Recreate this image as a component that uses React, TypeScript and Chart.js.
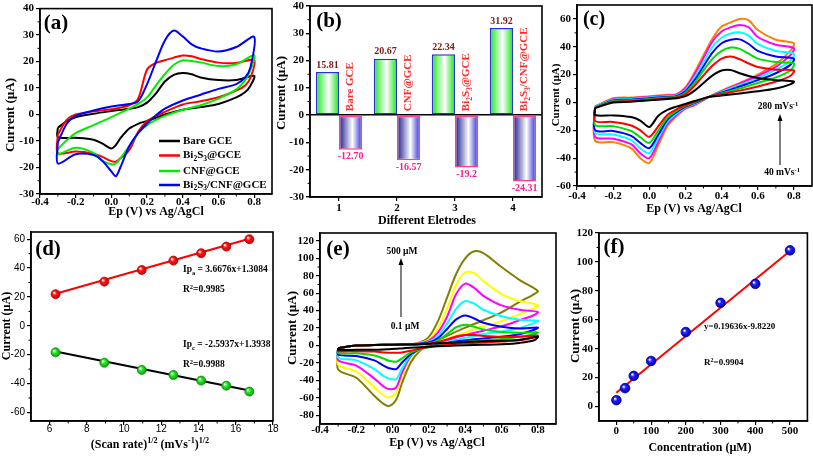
import React, { useEffect, useRef } from 'react';
import { Chart, registerables } from 'chart.js';

Chart.register(...registerables);

const SERIF = '"Liberation Serif", "Times New Roman", serif';
const SANS = '"Liberation Sans", Arial, sans-serif';

/* ---------------- (a) CVs of the four electrodes ---------------- */
const A_FWD_E = [-0.3, -0.25, -0.2, -0.1, 0, 0.1, 0.15, 0.2, 0.25, 0.3, 0.35, 0.4, 0.45, 0.5, 0.6, 0.7, 0.8];
const A_REV_E = [0.78, 0.75, 0.7, 0.6, 0.5, 0.4, 0.3, 0.25, 0.2, 0.15, 0.1, 0.05, 0.025, 0, -0.05, -0.1, -0.2, -0.3];
const A_BARE_FWD = [-5, -2.5, -1, 0.3, 1.3, 2.2, 2.8, 4.5, 8, 12.5, 15, 15.7, 15.2, 14, 13, 13, 14.6];
const A_BARE_REV = [11, 8.5, 6.5, 4, 2.8, 1.8, 0, -1.2, -2.4, -3.5, -5.3, -9, -11.5, -12.8, -11, -9.5, -8.8, -8.5];
const A_BI2S3_FWD = [-7.5, -2, 0, 1.2, 2, 3.5, 6, 17, 19.5, 20.5, 21.5, 22.3, 22, 21, 19.6, 19.5, 20.5];
const A_BI2S3_REV = [14, 11, 9, 6.5, 5, 3.8, 1, -0.5, -2.5, -6.5, -13.5, -16.5, -17.8, -17.6, -16, -14.8, -14, -14.6];
const A_CNF_FWD = [-13, -9.7, -7, -4, -1, 2.2, 4, 6.5, 11, 15.3, 18.8, 20.5, 20.2, 19.7, 18.3, 19, 22.4];
const A_CNF_REV = [17, 13, 9.5, 6, 3.5, 1.8, -0.5, -2, -4, -7, -12, -16.5, -18.5, -18.8, -17.5, -14.5, -12.5, -15];
const A_COMP_FWD = [-10.5, -3.5, -0.5, 1.5, 3, 4, 5, 11.5, 20, 28, 31.7, 29.5, 26.5, 25, 23.8, 25.5, 29.3];
const A_COMP_REV = [18, 14, 11.5, 9.7, 7.5, 5.3, 2.2, -0.3, -3.4, -7, -12, -20, -23.3, -21.5, -17.5, -15.3, -15, -18.5];
const A_NAMES = ['Bare GCE', 'Bi_2S_3@GCE', 'CNF@GCE', 'Bi_2S_3/CNF@GCE'];
const A_COLORS = ['#000000', '#ff0000', '#00ee00', '#0000ff'];

/* ---------------- (b) peak currents ---------------- */
const B_ELECTRODES = ['1', '2', '3', '4'];
const B_NAMES = ['Bare GCE', 'CNF@GCE', 'Bi_2S_3@GCE', 'Bi_2S_3/CNF@GCE'];
const B_IPA = [15.81, 20.67, 22.34, 31.92];
const B_IPC = [-12.7, -16.57, -19.2, -24.31];
const B_IPA_TXT = ['15.81', '20.67', '22.34', '31.92'];
const B_IPC_TXT = ['-12.70', '-16.57', '-19.2', '-24.31'];

/* ---------------- (c) scan rates 40 ... 280 mV/s ---------------- */
const C_FWD_E = [-0.3, -0.2, -0.1, 0, 0.1, 0.15, 0.2, 0.25, 0.3, 0.35, 0.4, 0.45, 0.5, 0.55, 0.6, 0.7, 0.8];
const C_REV_E = [0.78, 0.7, 0.6, 0.5, 0.4, 0.33, 0.25, 0.2, 0.15, 0.1, 0.05, 0, -0.05, -0.1, -0.2, -0.3];
const C_40_FWD = [-4, 0, 0.5, 1.5, 2.5, 3, 4.5, 8.5, 14, 19.5, 23, 23.3, 21, 19, 17.5, 16, 15];
const C_40_REV = [13, 10, 8, 6.5, 5, 4, 1, -1, -3, -5.3, -9.5, -17.6, -13, -10.5, -9.3, -9];
const C_80_FWD = [-4, 0.5, 1, 2, 3, 3.5, 6, 12, 19.5, 26.5, 31.5, 33, 31, 28, 25.5, 23.5, 23];
const C_80_REV = [19, 15, 11.5, 8.5, 6, 4, 0.5, -2, -5, -9, -17, -24.6, -20, -16.5, -14, -13.3];
const C_120_FWD = [-3.5, 1, 1.5, 2.5, 3.5, 4, 7, 14, 23, 31.5, 37, 39.4, 38.5, 35, 31.5, 29, 28];
const C_120_REV = [23, 18, 14, 10, 6.5, 4, 0, -2.5, -6, -11, -20, -29, -25, -20.5, -17, -16.2];
const C_160_FWD = [-3.5, 1.5, 2, 3, 4, 4.5, 8, 16, 26, 36, 42.5, 45, 45.3, 42, 37, 33, 31.5];
const C_160_REV = [27, 21, 16, 11.5, 7, 4, -0.5, -3, -7, -12.5, -23, -32.8, -29, -24, -20.5, -19.8];
const C_200_FWD = [-3, 2, 2.5, 3.5, 4.5, 5, 9, 18, 29, 40, 46.5, 49.5, 50.4, 48, 42, 37, 35];
const C_200_REV = [30, 23.5, 17.5, 12.5, 7.5, 4, -1, -3.5, -8, -14, -25.5, -36.4, -33, -27, -23, -21.7];
const C_240_FWD = [-3, 2.5, 3, 4, 5, 5.5, 10, 20, 32, 44, 51, 54, 55.7, 54, 47, 41.5, 39];
const C_240_REV = [34, 25.5, 19, 13.5, 8, 4, -1.5, -4, -9, -15.5, -28, -40, -36.5, -30, -26, -24.6];
const C_280_FWD = [-3, 3, 3.5, 4.5, 5.5, 6, 11, 21.5, 34, 46, 54.5, 57.5, 60, 59, 52, 45, 42.5];
const C_280_REV = [37, 27.5, 20, 14, 8.5, 4, -2, -4.5, -10, -17, -30.5, -43.5, -40, -33, -28.5, -27.5];
const C_COLORS = ['#000000', '#ff0000', '#00dd00', '#0000ff', '#00ffff', '#ff00ff', '#ff8000'];

/* ---------------- (d) peak current vs sqrt(scan rate) ---------------- */
const D_SQRT_RATE = [6.32, 8.94, 10.95, 12.65, 14.14, 15.49, 16.73];
const D_IPA = [21.9, 30.6, 38.7, 45.2, 50.3, 54.9, 60.0];
const D_IPC = [-18.4, -25.6, -30.6, -34.1, -38.0, -41.5, -45.6];
const D_FIT_X = [6.32, 16.73];
const D_FIT_IPA = [22.2, 60.3];
const D_FIT_IPC = [-17.8, -44.8];

/* ---------------- (e) concentrations 0.1 ... 500 uM ---------------- */
const E_FWD_E = [-0.3, -0.2, -0.1, 0, 0.1, 0.15, 0.2, 0.25, 0.3, 0.35, 0.4, 0.45, 0.5, 0.6, 0.7, 0.8];
const E_REV_E = [0.78, 0.7, 0.6, 0.5, 0.4, 0.3, 0.2, 0.15, 0.1, 0.05, 0.02, -0.02, -0.05, -0.1, -0.2, -0.3];
const E_BLACK_FWD = [-3, 0, 0.5, 1, 1.2, 1.5, 2, 2.5, 3, 3.5, 4, 4.5, 5, 5.5, 6.5, 10];
const E_BLACK_REV = [6, 3, 1.5, 0.8, 0.2, -0.5, -1.5, -2, -2.7, -3.3, -3.8, -4.2, -4.5, -4.8, -5, -5];
const E_RED_FWD = [-3, 0, 0.5, 1, 1.2, 1.5, 2, 4, 7, 10.5, 12, 12, 11, 10, 10, 11.5];
const E_RED_REV = [9, 6, 4.5, 3.5, 2.5, 1, -1.5, -3.5, -6, -8, -8.3, -8.2, -8, -7, -6.5, -6.5];
const E_GREEN_FWD = [-3, 0, 0.5, 1, 1.2, 1.5, 2.5, 6, 13, 21, 23.8, 21.5, 18.5, 15.5, 14.5, 15];
const E_GREEN_REV = [13, 10, 7.5, 6, 4, 2, -2, -4, -8, -15, -18.5, -17.5, -15, -11.5, -9, -8.5];
const E_BLUE_FWD = [-3, 0, 0.5, 1, 1.3, 2, 3.5, 8.5, 19, 30, 34.5, 31, 26, 21.5, 19.5, 20.5];
const E_BLUE_REV = [18, 13, 10, 8, 6, 3, -1.5, -4, -10, -20, -27, -26, -23, -17, -12, -10.5];
const E_CYAN_FWD = [-3, 0, 0.5, 1, 1.5, 2, 4.5, 11, 25, 42, 51, 48, 41, 33.5, 29.5, 28.5];
const E_CYAN_REV = [26, 20, 16, 13, 9, 4, -1, -4, -11, -27, -38.5, -38, -35, -27, -17, -14];
const E_MAGENTA_FWD = [-3, 0, 0.5, 1, 1.5, 2.5, 5.5, 15, 33, 59, 71, 66, 57, 46, 41, 38.5];
const E_MAGENTA_REV = [35, 29, 22, 17, 12, 6, -0.5, -4, -12, -32, -48, -50, -47, -38, -23, -17];
const E_YELLOW_FWD = [-3, 0, 0.5, 1, 1.5, 3, 7, 20, 42, 70, 84, 83, 74, 59, 51, 46.5];
const E_YELLOW_REV = [43, 36, 28, 22, 15, 7.5, 0, -4.5, -14, -36, -54, -59.5, -57, -48, -30, -22];
const E_OLIVE_FWD = [-3, 0, 0.5, 1, 1.5, 3.5, 10, 28, 55, 82, 100, 108, 106, 90, 75, 62.5];
const E_OLIVE_REV = [59, 50, 38, 29, 20.5, 11, 1, -6, -19.5, -44, -62, -69.5, -67, -58, -37, -27.5];
const E_COLORS = ['#000000', '#ff0000', '#00dd00', '#0000ff', '#00ffff', '#ff00ff', '#ffff00', '#808000'];

/* ---------------- (f) calibration ---------------- */
const F_CONC = [0.1, 25, 50, 100, 200, 300, 400, 500];
const F_CURRENT = [4.4, 12.7, 21.2, 31.5, 51.5, 71.7, 84.8, 108];
const F_FIT_X = [0, 500];
const F_FIT_Y = [9.5, 107.5];
const F_X_TICKS = [0, 100, 200, 300, 400, 500];

/* ---------------- helpers ---------------- */
const TICK_FONT = { family: SERIF, size: 11, weight: 'bold' as const };
const TICK_FONT_D = { family: SANS, size: 10, weight: 'normal' as const };

function geom(left: number, top: number, w: number, h: number, area: number[]) {
  const [l, t, r, b] = area;
  return { left, top, w, h, yW: l - left, padT: t - top, padR: left + w - r, xH: top + h - b };
}

type Seg = { t: string; m: number };
function parseRich(s: string): Seg[] {
  const out: Seg[] = [];
  let buf = '';
  const flush = () => { if (buf) { out.push({ t: buf, m: 0 }); buf = ''; } };
  for (let i = 0; i < s.length; i++) {
    const c = s[i];
    if ((c === '_' || c === '^') && i + 1 < s.length) {
      flush();
      let t = '';
      if (s[i + 1] === '{') { const j = s.indexOf('}', i + 2); t = s.slice(i + 2, j); i = j; }
      else { t = s[i + 1]; i++; }
      out.push({ t, m: c === '_' ? 1 : 2 });
    } else buf += c;
  }
  flush();
  return out;
}

function drawRich(ctx: CanvasRenderingContext2D, s: string, x: number, y: number, o: any) {
  const segs = parseRich(s);
  const fam = o.family || SERIF;
  const wt = o.weight || 'bold';
  const size = o.size;
  const small = size * 0.68;
  const f = (sz: number) => `${wt} ${sz}px ${fam}`;
  let total = 0;
  const widths = segs.map((sg) => { ctx.font = f(sg.m ? small : size); const w = ctx.measureText(sg.t).width; total += w; return w; });
  let cx = o.align === 'center' ? x - total / 2 : o.align === 'right' ? x - total : x;
  ctx.save();
  ctx.fillStyle = o.color || '#000';
  ctx.textBaseline = 'middle';
  ctx.textAlign = 'left';
  segs.forEach((sg, i) => {
    ctx.font = f(sg.m ? small : size);
    const dy = sg.m === 1 ? size * 0.3 : sg.m === 2 ? -size * 0.33 : 0;
    ctx.fillText(sg.t, cx, y + dy);
    cx += widths[i];
  });
  ctx.restore();
}

function arrowUp(ctx: CanvasRenderingContext2D, x: number, yb: number, yt: number) {
  ctx.save();
  ctx.strokeStyle = '#000';
  ctx.fillStyle = '#000';
  ctx.lineWidth = 1;
  ctx.beginPath(); ctx.moveTo(x, yb); ctx.lineTo(x, yt + 4); ctx.stroke();
  ctx.beginPath(); ctx.moveTo(x, yt); ctx.lineTo(x - 2.5, yt + 7); ctx.lineTo(x + 2.5, yt + 7); ctx.closePath(); ctx.fill();
  ctx.restore();
}

const framePlugin = {
  id: 'frame',
  afterDraw(chart: any) {
    const { left, top, right, bottom } = chart.chartArea;
    const ctx = chart.ctx;
    ctx.save();
    ctx.strokeStyle = '#000';
    ctx.lineWidth = 1.6;
    ctx.strokeRect(left, top, right - left, bottom - top);
    ctx.restore();
  },
};

const minorPlugin = {
  id: 'minorTicks',
  afterDraw(chart: any) {
    const ctx = chart.ctx;
    ['x', 'y'].forEach((id) => {
      const s = chart.scales[id];
      if (!s || s.type !== 'linear') return;
      const t = s.ticks.map((k: any) => k.value);
      ctx.save();
      ctx.strokeStyle = '#000';
      ctx.lineWidth = 1;
      for (let i = 0; i < t.length - 1; i++) {
        const p = s.getPixelForValue((t[i] + t[i + 1]) / 2);
        ctx.beginPath();
        if (id === 'x') { const y = chart.chartArea.bottom; ctx.moveTo(p, y); ctx.lineTo(p, y + 2.5); }
        else { const x = chart.chartArea.left; ctx.moveTo(x, p); ctx.lineTo(x - 2.5, p); }
        ctx.stroke();
      }
      ctx.restore();
    });
  },
};

function pagePlugin(g: any, items: any[], arrows: number[][] = []) {
  return {
    id: 'pageTexts',
    afterDraw(chart: any) {
      const ctx = chart.ctx;
      items.forEach((it) => {
        ctx.save();
        ctx.translate(it.x - g.left, it.y - g.top);
        if (it.rot) ctx.rotate(it.rot);
        drawRich(ctx, it.s, 0, 0, { align: 'center', ...it });
        ctx.restore();
      });
      arrows.forEach(([x, yb, yt]) => arrowUp(ctx, x - g.left, yb - g.top, yt - g.top));
    },
  };
}

function linAxis(g: any, horizontal: boolean, min: number, max: number, step: number, dec: number, font: any = TICK_FONT, pad = 2, fixedTicks?: number[]) {
  const ax: any = {
    type: 'linear',
    min, max,
    ticks: {
      stepSize: step, includeBounds: false, autoSkip: false, maxRotation: 0, minRotation: 0, padding: pad, color: '#000', font,
      callback: (v: any) => { const n = Math.abs(Number(v)) < 1e-9 ? 0 : Number(v); return n.toFixed(dec); },
    },
    grid: { drawOnChartArea: false, drawTicks: true, tickLength: 4, color: '#000', lineWidth: 1.2 },
    border: { display: true, color: '#000', width: 1.5 },
    afterFit: (s: any) => { if (horizontal) s.height = g.xH; else s.width = g.yW; },
  };
  if (fixedTicks) ax.afterBuildTicks = (s: any) => { s.ticks = fixedTicks.map((value) => ({ value })); };
  return ax;
}

function baseOptions(g: any, scales: any) {
  return {
    animation: false, responsive: false, maintainAspectRatio: false, events: [],
    layout: { padding: { top: g.padT, right: g.padR, left: 0, bottom: 0 } },
    plugins: { legend: { display: false }, tooltip: { enabled: false }, title: { display: false } },
    scales,
  };
}

function cv(fE: number[], fI: number[], rE: number[], rI: number[], color: string) {
  const data = fE.map((x, i) => ({ x, y: fI[i] }));
  rE.forEach((x, i) => data.push({ x, y: rI[i] }));
  data.push({ x: fE[0], y: fI[0] });
  return { data, borderColor: color, backgroundColor: color, borderWidth: 2, pointRadius: 0, tension: 0.3, fill: false };
}

function pts(xs: number[], ys: number[]) { return xs.map((x, i) => ({ x, y: ys[i] })); }

function sphere(color: string, dark: string) {
  return (c: any) => {
    if (c.type !== 'data' || !c.raw) return color;
    const ch = c.chart;
    const xs = ch.scales.x, ys = ch.scales.y;
    if (!xs || !ys) return color;
    const px = xs.getPixelForValue(c.raw.x), py = ys.getPixelForValue(c.raw.y);
    if (!isFinite(px) || !isFinite(py)) return color;
    const gr = ch.ctx.createRadialGradient(px - 1.6, py - 1.6, 0.3, px, py, 5);
    gr.addColorStop(0, '#ffffff');
    gr.addColorStop(0.35, color);
    gr.addColorStop(1, dark);
    return gr;
  };
}

function barFill(stops: any[], side: number) {
  return (c: any) => {
    if (c.type !== 'data') return stops[0][1];
    const xs = c.chart.scales.x;
    if (!xs || !xs.ticks || !xs.ticks.length) return stops[0][1];
    const cx = xs.getPixelForValue(c.dataIndex);
    const cw = xs.width / xs.ticks.length;
    if (!isFinite(cx) || !isFinite(cw) || cw <= 0) return stops[0][1];
    const x0 = side < 0 ? cx - cw * 0.4 : cx;
    const gr = c.chart.ctx.createLinearGradient(x0, 0, x0 + cw * 0.4, 0);
    stops.forEach(([o, col]: any) => gr.addColorStop(o, col));
    return gr;
  };
}

/* ---------------- geometry (page px) ---------------- */
const GA = geom(0, 0, 280, 228, [40, 7, 272, 194]);
const GB = geom(268, -4, 280, 232, [310, 6, 542, 197]);
const GC = geom(545, -4, 268, 232, [577, 5, 812, 186]);
const GD = geom(0, 224, 282, 232, [31, 232, 273, 421]);
const GE = geom(276, 224, 282, 232, [320, 233, 556, 424]);
const GF = geom(556, 224, 257, 232, [599, 233, 810, 421]);
const ROT = -Math.PI / 2;

/* ---------------- panel configs ---------------- */
function makeA(g: any) {
  const curves = [
    cv(A_FWD_E, A_BARE_FWD, A_REV_E, A_BARE_REV, A_COLORS[0]),
    cv(A_FWD_E, A_BI2S3_FWD, A_REV_E, A_BI2S3_REV, A_COLORS[1]),
    cv(A_FWD_E, A_CNF_FWD, A_REV_E, A_CNF_REV, A_COLORS[2]),
    cv(A_FWD_E, A_COMP_FWD, A_REV_E, A_COMP_REV, A_COLORS[3]),
  ].reverse();
  const legend = {
    id: 'legendA',
    afterDraw(chart: any) {
      const ctx = chart.ctx;
      const rows = [141, 155.5, 171, 185];
      A_NAMES.forEach((n, i) => {
        const y = rows[i] - g.top;
        ctx.save();
        ctx.strokeStyle = A_COLORS[i];
        ctx.lineWidth = 2.5;
        ctx.beginPath(); ctx.moveTo(159 - g.left, y); ctx.lineTo(180 - g.left, y); ctx.stroke();
        ctx.restore();
        drawRich(ctx, n, 183 - g.left, y, { size: 11, align: 'left' });
      });
    },
  };
  return {
    type: 'line',
    data: { datasets: curves },
    options: baseOptions(g, { x: linAxis(g, true, -0.4, 0.9, 0.2, 1, TICK_FONT, -2), y: linAxis(g, false, -30, 40, 10, 0) }),
    plugins: [framePlugin, minorPlugin, legend, pagePlugin(g, [
      { s: '(a)', x: 56, y: 24, size: 21 },
      { s: 'Ep (V) vs Ag/AgCl', x: 156, y: 212, size: 12 },
      { s: 'Current (µA)', x: 11, y: 115, size: 13, rot: ROT },
    ])],
  };
}

function makeB(g: any) {
  const GREEN = [[0, '#19e619'], [0.55, '#ffffff'], [1, '#19e619']];
  const BLUE = [[0, '#1a1a8c'], [0.58, '#ffffff'], [1, '#2a2ad8']];
  const labels = {
    id: 'barLabels',
    afterDatasetsDraw(chart: any) {
      const ctx = chart.ctx;
      const y0 = chart.scales.y.getPixelForValue(0);
      chart.getDatasetMeta(0).data.forEach((el: any, i: number) => {
        drawRich(ctx, B_IPA_TXT[i], el.x, el.y - 7, { size: 10, color: '#7a1a1a', align: 'center' });
      });
      chart.getDatasetMeta(1).data.forEach((el: any, i: number) => {
        drawRich(ctx, B_IPC_TXT[i], el.x, el.y + 7, { size: 10, color: '#ff1c8d', align: 'center' });
        ctx.save();
        ctx.translate(el.x, y0 - 4);
        ctx.rotate(ROT);
        drawRich(ctx, B_NAMES[i], 0, 0, { size: 11, color: '#ff2a2a', align: 'left' });
        ctx.restore();
      });
    },
  };
  const yAx: any = linAxis(g, false, -30, 40, 10, 0);
  yAx.grid = {
    drawOnChartArea: true, drawTicks: true, tickLength: 4, tickColor: '#000', lineWidth: 1.4,
    color: (c: any) => (c.tick && c.tick.value === 0 ? '#000' : 'rgba(0,0,0,0)'),
  };
  return {
    type: 'bar',
    data: {
      labels: B_ELECTRODES,
      datasets: [
        { data: B_IPA, backgroundColor: barFill(GREEN, -1), borderColor: '#2f2fd6', borderWidth: 1.5, borderSkipped: false, categoryPercentage: 0.8, barPercentage: 1.0 },
        { data: B_IPC, backgroundColor: barFill(BLUE, 1), borderColor: '#ff3d8b', borderWidth: 1.5, borderSkipped: false, categoryPercentage: 0.8, barPercentage: 1.0 },
      ],
    },
    options: baseOptions(g, {
      x: {
        type: 'category', offset: true,
        ticks: { font: TICK_FONT, color: '#000', padding: 1, maxRotation: 0 },
        grid: { offset: false, drawOnChartArea: false, drawTicks: true, tickLength: 4, color: '#000', lineWidth: 1.2 },
        border: { display: true, color: '#000', width: 1.5 },
        afterFit: (s: any) => { s.height = g.xH; },
      },
      y: yAx,
    }),
    plugins: [framePlugin, minorPlugin, labels, pagePlugin(g, [
      { s: '(b)', x: 329, y: 22, size: 21 },
      { s: 'Different Eletrodes', x: 427, y: 221, size: 12 },
      { s: 'Current (µA)', x: 282, y: 93, size: 13, rot: ROT },
    ])],
  };
}

function makeC(g: any) {
  const fw = [C_40_FWD, C_80_FWD, C_120_FWD, C_160_FWD, C_200_FWD, C_240_FWD, C_280_FWD];
  const rv = [C_40_REV, C_80_REV, C_120_REV, C_160_REV, C_200_REV, C_240_REV, C_280_REV];
  const curves = fw.map((f, i) => cv(C_FWD_E, f, C_REV_E, rv[i], C_COLORS[i]));
  return {
    type: 'line',
    data: { datasets: curves },
    options: baseOptions(g, { x: linAxis(g, true, -0.4, 0.9, 0.2, 1, TICK_FONT, 0), y: linAxis(g, false, -60, 70, 20, 0) }),
    plugins: [framePlugin, minorPlugin, pagePlugin(g, [
      { s: '(c)', x: 594, y: 20, size: 20 },
      { s: 'Ep (V) vs Ag/AgCl', x: 694, y: 209, size: 12 },
      { s: 'Current (µA)', x: 556, y: 95, size: 11, rot: ROT },
      { s: '280 mVs^{-1}', x: 778, y: 107, size: 9.5 },
      { s: '40 mVs^{-1}', x: 782, y: 173, size: 9.5 },
    ], [[780, 165, 114]])],
  };
}

function makeD(g: any) {
  return {
    type: 'scatter',
    data: {
      datasets: [
        { data: pts(D_SQRT_RATE, D_IPA), pointRadius: 4.5, backgroundColor: sphere('#ff1a1a', '#b00000'), borderColor: '#cc0000', borderWidth: 0.8, order: 0 },
        { data: pts(D_SQRT_RATE, D_IPC), pointRadius: 4.5, backgroundColor: sphere('#22ee22', '#109010'), borderColor: '#0a8a0a', borderWidth: 0.8, order: 0 },
        { data: pts(D_FIT_X, D_FIT_IPA), showLine: true, pointRadius: 0, borderColor: '#ff0000', borderWidth: 2, order: 1 },
        { data: pts(D_FIT_X, D_FIT_IPC), showLine: true, pointRadius: 0, borderColor: '#000000', borderWidth: 2, order: 1 },
      ],
    },
    options: baseOptions(g, { x: linAxis(g, true, 5, 18, 2, 0, TICK_FONT_D, -2), y: linAxis(g, false, -66, 65, 20, 0, TICK_FONT_D) }),
    plugins: [framePlugin, minorPlugin, pagePlugin(g, [
      { s: '(d)', x: 48, y: 250, size: 21 },
      { s: '(Scan rate)^{1/2} (mVs^{-1})^{1/2}', x: 150, y: 445, size: 12 },
      { s: 'Current (µA)', x: 7, y: 326, size: 12, rot: ROT },
      { s: 'Ip_a = 3.6676x+1.3084', x: 183, y: 270, size: 9.5, align: 'left' },
      { s: 'R^2=0.9985', x: 183, y: 290, size: 9.5, align: 'left' },
      { s: 'Ip_c = -2.5937x+1.3938', x: 183, y: 345, size: 9.5, align: 'left' },
      { s: 'R^2=0.9988', x: 183, y: 365, size: 9.5, align: 'left' },
    ])],
  };
}

function makeE(g: any) {
  const fw = [E_BLACK_FWD, E_RED_FWD, E_GREEN_FWD, E_BLUE_FWD, E_CYAN_FWD, E_MAGENTA_FWD, E_YELLOW_FWD, E_OLIVE_FWD];
  const rv = [E_BLACK_REV, E_RED_REV, E_GREEN_REV, E_BLUE_REV, E_CYAN_REV, E_MAGENTA_REV, E_YELLOW_REV, E_OLIVE_REV];
  const curves = fw.map((f, i) => cv(E_FWD_E, f, E_REV_E, rv[i], E_COLORS[i]));
  return {
    type: 'line',
    data: { datasets: curves },
    options: baseOptions(g, { x: linAxis(g, true, -0.4, 0.9, 0.2, 1, TICK_FONT, -4), y: linAxis(g, false, -90, 129, 20, 0) }),
    plugins: [framePlugin, minorPlugin, pagePlugin(g, [
      { s: '(e)', x: 338, y: 250, size: 21 },
      { s: 'Ep (V) vs Ag/AgCl', x: 437, y: 443, size: 12 },
      { s: 'Current (µA)', x: 293, y: 328, size: 13, rot: ROT },
      { s: '500 µM', x: 402, y: 252, size: 9.5 },
      { s: '0.1 µM', x: 405, y: 327, size: 9.5 },
    ], [[401, 317, 258]])],
  };
}

function makeF(g: any) {
  return {
    type: 'scatter',
    data: {
      datasets: [
        { data: pts(F_CONC, F_CURRENT), pointRadius: 4.8, backgroundColor: sphere('#2222ff', '#0000a0'), borderColor: '#0000aa', borderWidth: 0.8, order: 0 },
        { data: pts(F_FIT_X, F_FIT_Y), showLine: true, pointRadius: 0, borderColor: '#ff0000', borderWidth: 2, order: 1 },
      ],
    },
    options: baseOptions(g, { x: linAxis(g, true, -50, 550, 100, 0, TICK_FONT, 0, F_X_TICKS), y: linAxis(g, false, -10, 120, 20, 0) }),
    plugins: [framePlugin, minorPlugin, pagePlugin(g, [
      { s: '(f)', x: 614, y: 248, size: 21 },
      { s: 'Concentration (µM)', x: 700, y: 448, size: 12 },
      { s: 'Current (µA)', x: 576, y: 326, size: 13, rot: ROT },
      { s: 'y=0.19636x-9.8220', x: 704, y: 327, size: 9, align: 'left' },
      { s: 'R^2=0.9904', x: 704, y: 363, size: 9, align: 'left' },
    ])],
  };
}

function ChartPanel({ g, make }: any) {
  const ref = useRef<HTMLCanvasElement | null>(null);
  useEffect(() => {
    const chart = new Chart(ref.current as HTMLCanvasElement, make(g) as any);
    return () => chart.destroy();
  }, []);
  return (
    <canvas
      ref={ref}
      width={g.w}
      height={g.h}
      style={{ position: 'absolute', left: g.left, top: g.top, width: g.w, height: g.h }}
    />
  );
}

export default function App() {
  return (
    <div style={{ position: 'fixed', left: 0, top: 0, width: 813, height: 456, background: '#ffffff', overflow: 'hidden' }}>
      <ChartPanel g={GA} make={makeA} />
      <ChartPanel g={GB} make={makeB} />
      <ChartPanel g={GC} make={makeC} />
      <ChartPanel g={GD} make={makeD} />
      <ChartPanel g={GE} make={makeE} />
      <ChartPanel g={GF} make={makeF} />
    </div>
  );
}
